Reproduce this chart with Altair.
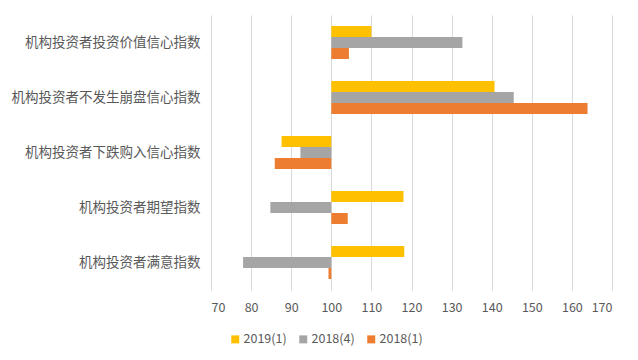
import altair as alt
import pandas as pd

categories = ["机构投资者投资价值信心指数", "机构投资者不发生崩盘信心指数", "机构投资者下跌购入信心指数", "机构投资者期望指数", "机构投资者满意指数"]
series = ["2019(1)", "2018(4)", "2018(1)"]
v2019_1 = [110.0, 140.7, 87.6, 118.0, 118.2]
v2018_4 = [132.7, 145.5, 92.3, 84.8, 78.0]
v2018_1 = [104.4, 163.9, 85.9, 104.1, 99.3]
colors = ["#FFC000", "#A5A5A5", "#ED7D31"]
x_ticks = [70, 80, 90, 100, 110, 120, 130, 140, 150, 160, 170]
baseline = 100

rows = []
for s, vals in zip(series, [v2019_1, v2018_4, v2018_1]):
    for c, v in zip(categories, vals):
        rows.append({"category": c, "series": s, "value": v, "base": baseline})
df = pd.DataFrame(rows)

FONT = "Noto Sans CJK SC"

chart = alt.Chart(df).mark_bar().encode(
    y=alt.Y("category:N", sort=categories, title=None,
            scale=alt.Scale(paddingInner=0.4, paddingOuter=0.2),
            axis=alt.Axis(domain=False, ticks=False, labelPadding=11, labelFontSize=13.5,
                          labelColor="#595959", labelFont=FONT, labelLimit=300)),
    yOffset=alt.YOffset("series:N", sort=series, scale=alt.Scale(paddingInner=0, paddingOuter=0)),
    x=alt.X("value:Q", title=None,
            scale=alt.Scale(domain=[70, 170], nice=False, zero=False),
            axis=alt.Axis(values=x_ticks, domain=False, ticks=False, labelPadding=11,
                          labelFontSize=12.5, labelColor="#595959", labelFont=FONT,
                          gridColor="#D9D9D9", gridWidth=1)),
    x2="base:Q",
    color=alt.Color("series:N", sort=series, scale=alt.Scale(domain=series, range=colors),
                    legend=alt.Legend(title=None, orient="none", direction="horizontal",
                                      legendX=18, legendY=318, symbolType="square",
                                      symbolSize=64, symbolStrokeWidth=0, labelFontSize=12.5,
                                      labelColor="#595959", labelFont=FONT, columnPadding=10,
                                      labelOffset=2)),
).properties(
    width=401, height=275,
    autosize=alt.AutoSizeParams(type="none"),
    padding={"left": 203, "top": 7, "right": 18, "bottom": 62},
).configure_view(stroke=None)

chart.save("out.html", embed_options={"renderer": "svg", "actions": False})
